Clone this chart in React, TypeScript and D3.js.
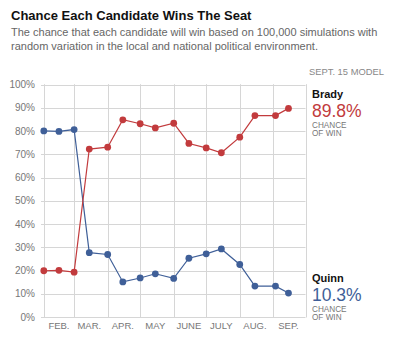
import React from "react";
import * as d3 from "d3";

const dates = ["2014-02-01","2014-02-15","2014-03-01","2014-03-15","2014-04-01","2014-04-15","2014-05-01","2014-05-15","2014-06-01","2014-06-15","2014-07-01","2014-07-15","2014-08-01","2014-08-15","2014-09-03","2014-09-15"];
const brady = [19.9, 20.1, 19.3, 72.3, 73.1, 84.9, 83.2, 81.4, 83.4, 74.7, 72.8, 70.7, 77.4, 86.7, 86.7, 89.8];
const quinn = [80.1, 79.9, 80.7, 27.7, 26.9, 15.1, 16.8, 18.6, 16.6, 25.3, 27.2, 29.3, 22.6, 13.3, 13.3, 10.3];
const yTicks = [0, 10, 20, 30, 40, 50, 60, 70, 80, 90, 100];
const monthLabels = ["FEB.", "MAR.", "APR.", "MAY", "JUNE", "JULY", "AUG.", "SEP."];
const monthStarts = ["2014-02-01","2014-03-01","2014-04-01","2014-05-01","2014-06-01","2014-07-01","2014-08-01","2014-09-01","2014-10-01"];
const labelDates = ["2014-02-15","2014-03-15","2014-04-15","2014-05-15","2014-06-15","2014-07-15","2014-08-15","2014-09-15"];

const RED = "#c23b3d";
const BLUE = "#3f5f98";
const GRID = "#d6d6d6";
const FONT = "'Liberation Sans', Arial, Helvetica, sans-serif";

export default function App() {
  const parse = d3.utcParse("%Y-%m-%d");
  const x = d3.scaleUtc().domain([parse("2014-02-01")!, parse("2014-10-01")!]).range([43.8, 305.8]);
  const y = d3.scaleLinear().domain([0, 100]).range([317, 84.7]);
  const line = d3.line<number>().x((_, i) => x(parse(dates[i])!)).y((d) => y(d));
  const R = 305.5;

  const series = [
    { name: "quinn", values: quinn, color: BLUE },
    { name: "brady", values: brady, color: RED },
  ];

  return (
    <svg width={395} height={345} style={{ position: "absolute", left: 0, top: 0, fontFamily: FONT }}>
      <rect width={395} height={345} fill="#fff" />
      <text x={11} y={20} fontSize={13} fontWeight="bold" fill="#111">Chance Each Candidate Wins The Seat</text>
      <text x={11} y={36} fontSize={11} fill="#666">The chance that each candidate will win based on 100,000 simulations with</text>
      <text x={11} y={49.5} fontSize={11} fill="#666">random variation in the local and national political environment.</text>
      <text x={384} y={74.5} fontSize={9.4} fill="#888" textAnchor="end">SEPT. 15 MODEL</text>

      {yTicks.map((t) => (
        <g key={t}>
          <line x1={41} x2={R} y1={Math.round(y(t)) + 0.5} y2={Math.round(y(t)) + 0.5} stroke={GRID} strokeWidth={1} />
          <text x={35} y={y(t)} dy="0.35em" fontSize={10} fill="#777" textAnchor="end">{t}%</text>
        </g>
      ))}
      {monthStarts.map((m) => {
        const xx = Math.round(x(parse(m)!)) + 0.5;
        return <line key={m} x1={xx} x2={xx} y1={y(100) - 0.5} y2={y(0) + 0.5} stroke={GRID} strokeWidth={1} />;
      })}
      {monthLabels.map((lab, i) => (
        <text key={lab} x={x(parse(labelDates[i])!)} y={328.5} fontSize={9.5} fill="#777" textAnchor="middle">{lab}</text>
      ))}

      {series.map((s) => (
        <g key={s.name}>
          <path d={line(s.values) || ""} fill="none" stroke={s.color} strokeWidth={1.2} />
          {s.values.map((v, i) => (
            <circle key={i} cx={x(parse(dates[i])!)} cy={y(v)} r={3.4} fill={s.color} />
          ))}
        </g>
      ))}

      <text x={312} y={98} fontSize={11} fontWeight="bold" fill="#111">Brady</text>
      <text x={312} y={116.5} fontSize={17.5} fill={RED}>{brady[brady.length - 1].toFixed(1)}%</text>
      <text x={312} y={127.5} fontSize={8.2} fill="#777">CHANCE</text>
      <text x={312} y={135.5} fontSize={8.2} fill="#777">OF WIN</text>

      <text x={312} y={282} fontSize={11} fontWeight="bold" fill="#111">Quinn</text>
      <text x={312} y={300.7} fontSize={17.5} fill={BLUE}>{quinn[quinn.length - 1].toFixed(1)}%</text>
      <text x={312} y={311.7} fontSize={8.2} fill="#777">CHANCE</text>
      <text x={312} y={319.5} fontSize={8.2} fill="#777">OF WIN</text>
    </svg>
  );
}
